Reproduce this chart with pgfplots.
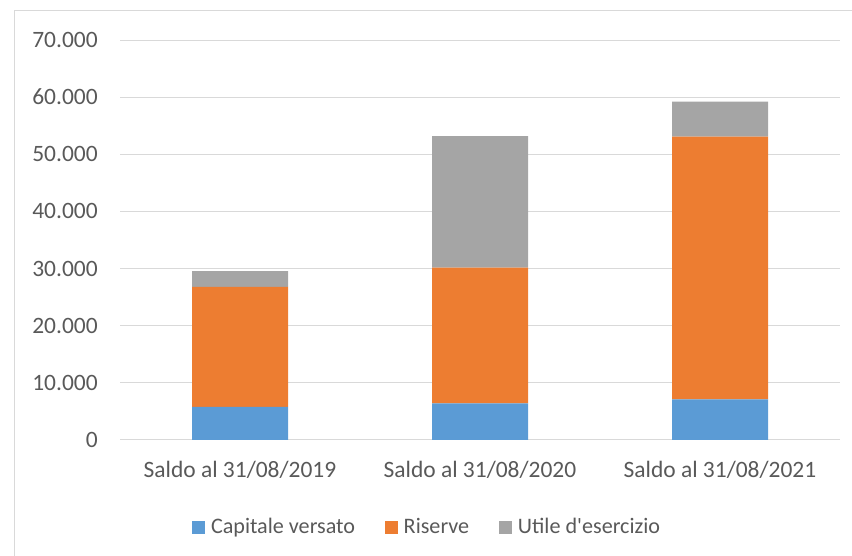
\documentclass[border=0pt]{standalone}
\usepackage{pgfplots}
\pgfplotsset{compat=1.18}
\usepackage{fontspec}
\setmainfont{Carlito}
\definecolor{cblue}{HTML}{5B9BD5}
\definecolor{corange}{HTML}{ED7D31}
\definecolor{cgray}{HTML}{A5A5A5}
\definecolor{gridc}{HTML}{D9D9D9}
\definecolor{tickc}{HTML}{595959}
\pgfplotsset{sqlegend/.style={legend image code/.code={\fill[##1] (0pt,-4.875pt) rectangle (9.75pt,4.875pt);}}}
\begin{document}
\fontsize{17.6pt}{21pt}\selectfont
\begin{tikzpicture}
\useasboundingbox (0,0) rectangle (639pt,417pt);
\draw[color=gridc, line width=0.75pt] (10.5pt,0) -- (10.5pt,408.75pt) -- (639pt,408.75pt);
\begin{axis}[
  at={(90pt,87pt)}, anchor=south west,
  scale only axis, width=540pt, height=300pt,
  ybar stacked, bar width=72pt,
  xmin=-0.5, xmax=2.5, ymin=0, ymax=70000,
  xtick={0,1,2},
  xticklabels={Saldo al 31/08/2019, Saldo al 31/08/2020, Saldo al 31/08/2021},
  ytick={0,10000,20000,30000,40000,50000,60000,70000},
  scaled y ticks=false,
  yticklabel style={/pgf/number format/fixed, /pgf/number format/1000 sep={.}, /pgf/number format/assume math mode=true},
  axis line style={draw=none},
  major tick length=0pt,
  tick style={draw=none},
  ymajorgrids, grid style={color=gridc, line width=0.75pt},
  yticklabel style={anchor=east, inner sep=0pt, xshift=-16.5pt, text=tickc},
  xticklabel style={anchor=base, inner sep=0pt, yshift=-28pt, text=tickc},
  legend columns=3,
  legend style={at={(0.1,-0.2185)}, anchor=west, draw=none, fill=none, inner sep=0pt,
    font=\fontsize{16.6pt}{20pt}\selectfont,
    nodes={inner sep=0pt, text=tickc},
    /tikz/every odd column/.append style={column sep=4.3pt},
    /tikz/every even column/.append style={column sep=22.5pt}},
]
\addplot[fill=cblue, draw=none, sqlegend] coordinates {(0,5800) (1,6400) (2,7100)};
\addplot[fill=corange, draw=none, sqlegend] coordinates {(0,21000) (1,23750) (2,46000)};
\addplot[fill=cgray, draw=none, sqlegend] coordinates {(0,2750) (1,23050) (2,6100)};
\legend{Capitale versato, Riserve, Utile d\textquotesingle esercizio}
\end{axis}
\end{tikzpicture}
\end{document}
